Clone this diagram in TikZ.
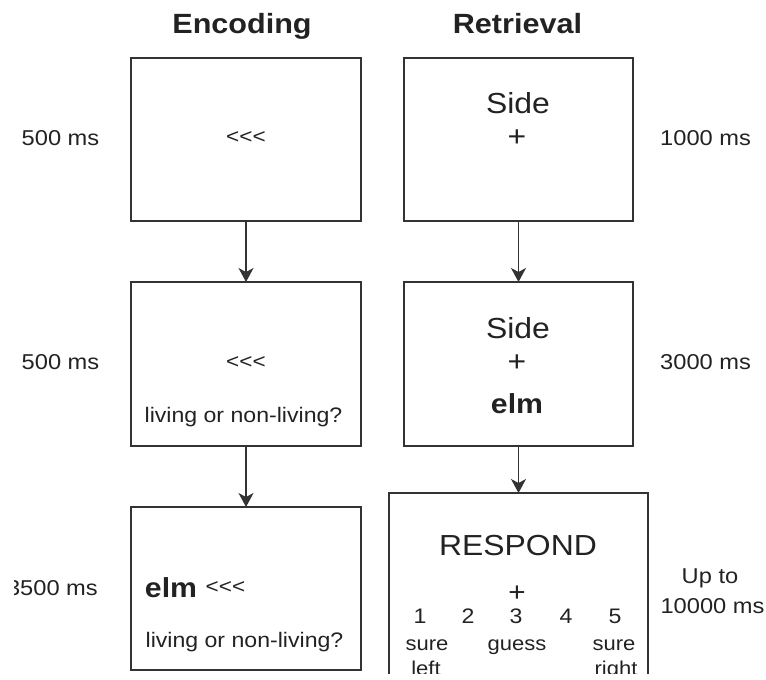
\documentclass[tikz,border=0pt]{standalone}
\usepackage{fontspec}
\setmainfont{Liberation Sans}[FakeStretch=1.1]
\usetikzlibrary{arrows.meta}
\definecolor{ink}{HTML}{222222}
\definecolor{edge}{HTML}{333333}
\newcommand\myfs[1]{\fontsize{#1}{#1}\selectfont}
\newcommand\lll{<\kern0pt<\kern0pt<}
\begin{document}
\begin{tikzpicture}[x=1pt,y=-1pt,
  screen/.style={draw=edge, line width=1.3pt, minimum width=230pt, minimum height=163pt, inner sep=0pt, outer sep=0pt},
  txt/.style={inner sep=0pt, text=ink},
  lab/.style={txt, font=\myfs{21.5}},
  head/.style={txt, font=\bfseries\myfs{27.8}},
  big/.style={txt, font=\myfs{29}},
  word/.style={txt, font=\bfseries\myfs{27.5}},
  arrows3/.style={txt, font=\myfs{20.5}},
  quest/.style={txt, font=\myfs{21}},
  scale5/.style={txt, font=\myfs{21}},
  small/.style={txt, font=\myfs{20}},
  arr/.style={draw=edge, line width=1.2pt, -{Stealth[length=14pt,width=15pt,inset=4pt]}}]
\useasboundingbox (0,0) rectangle (766,680);
\begin{scope}
\clip (14,0) rectangle (766,673);
% screens
\node[screen] (E1) at (246,139.5) {};
\node[screen, minimum height=164pt] (E2) at (246,364) {};
\node[screen] (E3) at (246,588.5) {};
\node[screen, minimum width=229pt] (R1) at (518.5,139.5) {};
\node[screen, minimum width=229pt, minimum height=164pt] (R2) at (518.5,364) {};
\node[screen, minimum width=259pt, minimum height=207pt] (R3) at (518.5,596.5) {};
% arrows
\draw[arr] (E1.south) -- (E2.north);
\draw[arr] (E2.south) -- (E3.north);
\draw[arr] (R1.south) -- (R2.north);
\draw[arr] (R2.south) -- (R3.north);
% headers
\node[head, anchor=base] (hE) at (242,33) {Encoding};
\node[head, anchor=base] (hR) at (517.5,33) {Retrieval};
% durations
\node[lab, anchor=base] (d1) at (60.5,145) {500 ms};
\node[lab, anchor=base] (d2) at (60.5,369) {500 ms};
\node[lab, anchor=base east] (d3) at (98,595) {3500 ms};
\node[lab, anchor=base west] (d4) at (660,145) {1000 ms};
\node[lab, anchor=base west] (d5) at (660,369) {3000 ms};
\node[lab, anchor=base] (d6) at (710,583) {Up to};
\node[lab, anchor=base] (d7) at (712.5,613) {10000 ms};
% encoding screens
\node[arrows3] (a1) at (246,138) {\lll};
\node[arrows3] (a2) at (246,363) {\lll};
\node[quest, anchor=base] (q2) at (243.5,422) {living or non-living?};
\node[word, anchor=base] (w3) at (171,597) {elm};
\node[arrows3] (a3) at (225.5,587.5) {\lll};
\node[quest, anchor=base] (q3) at (244.5,647) {living or non-living?};
% retrieval screens
\node[big, anchor=base] (s1) at (518,113) {Side};
\node[big] (p1) at (517,138.5) {+};
\node[big, anchor=base] (s2) at (518,338) {Side};
\node[big] (p2) at (517,363.5) {+};
\node[word, anchor=base] (w2) at (517,413) {elm};
\node[big, anchor=base] (r3) at (518,555) {RESPOND};
\node[txt, font=\myfs{27}] (p3) at (517,593.5) {+};
\node[scale5, anchor=base] (n1) at (420,623) {1};
\node[scale5, anchor=base] (n2) at (468,623) {2};
\node[scale5, anchor=base] (n3) at (516,623) {3};
\node[scale5, anchor=base] (n4) at (566,623) {4};
\node[scale5, anchor=base] (n5) at (615,623) {5};
\node[small, anchor=base] (l1) at (427,650) {sure};
\node[small, anchor=base] (l3) at (517,650) {guess};
\node[small, anchor=base] (l5) at (614,650) {sure};
\node[small, anchor=base] (m1) at (426,675) {left};
\node[small, anchor=base] (m5) at (616,675) {right};
\end{scope}
\end{tikzpicture}
\end{document}
